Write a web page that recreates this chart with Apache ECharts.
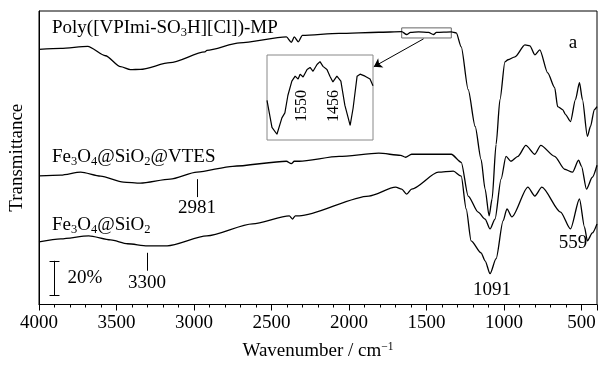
<!DOCTYPE html>
<html>
<head>
<meta charset="utf-8">
<script src="https://cdn.jsdelivr.net/npm/echarts@6/dist/echarts.min.js"></script>
<style>
  html, body { margin: 0; padding: 0; background: #fff; }
  #chart { width: 600px; height: 366px; }
</style>
</head>
<body>
<div id="chart"></div>
<script>
// wavenumbers (cm-1) and transmittance (%, curves offset)
const wnPoly = [4000, 3859, 3686, 3571, 3474, 3410, 3346, 3154, 2929, 2917, 2705, 2404, 2372, 2353, 2327, 2301, 2064, 1808, 1660, 1628, 1603, 1551, 1487, 1455, 1436, 1340, 1308, 1276, 1231, 1186, 1148, 1122, 1096, 1077, 1051, 1026, 994, 974, 929, 865, 833, 801, 769, 718, 673, 654, 622, 603, 571, 539, 513, 494, 462, 442, 417, 400]
const tPoly = [146.6, 147.1, 148.3, 142.9, 136.6, 134.9, 135.1, 138.9, 145.1, 146.0, 150.3, 153.7, 150.6, 153.7, 150.9, 154.6, 155.7, 156.4, 156.7, 155.1, 156.3, 156.6, 156.3, 155.1, 156.3, 156.6, 156.0, 148.0, 123.4, 102.3, 83.4, 66.3, 50.9, 60.6, 92.0, 117.7, 139.4, 140.6, 142.3, 149.1, 148.6, 143.4, 146.3, 133.1, 124.6, 113.7, 112.0, 109.1, 105.1, 117.7, 127.4, 117.7, 96.6, 102.3, 112.0, 113.7]

const wnVtes = [4000, 3859, 3731, 3603, 3455, 3346, 3154, 2981, 2750, 2404, 2372, 2353, 2321, 2064, 1808, 1667, 1635, 1596, 1423, 1340, 1276, 1231, 1167, 1122, 1090, 1058, 1019, 987, 955, 910, 859, 801, 763, 673, 609, 558, 519, 500, 468, 430, 400]
const tVtes = [73.9, 74.3, 76.0, 73.7, 70.3, 69.7, 72.0, 76.0, 79.4, 82.3, 80.9, 82.3, 82.3, 85.1, 86.9, 85.7, 84.6, 86.3, 86.3, 86.3, 81.7, 62.3, 53.1, 49.1, 43.4, 49.1, 72.0, 85.1, 82.3, 85.1, 91.4, 86.3, 91.4, 85.1, 77.7, 76.0, 82.9, 79.4, 66.3, 73.1, 80.0]

const wnSio2 = [4000, 3859, 3679, 3538, 3429, 3301, 3173, 2917, 2622, 2385, 2365, 2346, 2321, 1872, 1699, 1660, 1628, 1596, 1423, 1327, 1276, 1244, 1212, 1148, 1122, 1090, 1051, 1006, 981, 949, 846, 801, 756, 635, 571, 513, 481, 462, 430, 400]
const tSio2 = [36.0, 37.7, 39.4, 37.1, 34.9, 33.7, 33.7, 39.4, 46.3, 50.9, 49.1, 50.9, 50.9, 62.3, 67.4, 66.3, 63.4, 66.3, 76.0, 76.6, 73.7, 54.9, 36.6, 29.7, 25.1, 17.7, 26.3, 48.0, 54.9, 50.3, 67.4, 62.3, 67.4, 53.1, 43.4, 60.6, 44.6, 36.6, 41.1, 46.3]

// inset: magnified 1660-1340 cm-1 part of the top curve
const wnInset = [1660, 1645, 1630, 1615, 1606, 1597, 1585, 1575, 1566, 1560, 1551, 1539, 1530, 1521, 1509, 1500, 1491, 1479, 1470, 1461, 1449, 1437, 1425, 1409, 1400, 1388, 1379, 1364, 1349, 1340]
const tInset = [155.65, 153.77, 153.30, 154.44, 154.78, 155.99, 156.99, 157.33, 157.13, 157.47, 157.27, 157.80, 157.94, 157.67, 158.14, 158.34, 158.01, 157.80, 157.33, 156.93, 157.33, 156.99, 155.32, 153.91, 155.12, 157.33, 157.47, 157.33, 157.13, 156.66]

const xTickLabels = [4000, 3500, 3000, 2500, 2000, 1500, 1000, 500]
const peakMarks = [[3300, 29.7, 19.4], [2981, 72.0, 61.7]]

const serif = '"Liberation Serif", "Times New Roman", serif'
const pts = (wn, t) => wn.map((w, i) => [-w, t[i]])

const chart = echarts.init(document.getElementById('chart'))

const sub = { fontSize: 12.5, fontFamily: serif, color: '#000', padding: [9, 0, 0, 0] }
const nrm = { fontSize: 19, fontFamily: serif, color: '#000' }
const txt = (x, y, text, extra) => ({
  type: 'text', x: x, y: y, z: 100,
  style: Object.assign({ text: text, font: '19px ' + serif, fill: '#000', textAlign: 'center', textVerticalAlign: 'middle', rich: { n: nrm, s: sub } }, extra || {})
})
const vtxt = (x, y, text) => ({
  type: 'text', x: x, y: y, z: 100, rotation: Math.PI / 2,
  style: { text: text, font: '16px ' + serif, fill: '#000', textAlign: 'center', textVerticalAlign: 'middle' }
})

const option = {
  animation: false,
  grid: [
    { left: 38, top: 11, width: 561, height: 295, show: true, borderColor: '#000', borderWidth: 1 },
    { left: 267, top: 55, width: 106, height: 85, show: true, borderColor: '#888', borderWidth: 1, backgroundColor: '#fff', z: 5 }
  ],
  xAxis: [
    {
      gridIndex: 0, type: 'value', min: -4000, max: -400, interval: 500,
      axisLine: { show: true, onZero: false, lineStyle: { color: '#000' } },
      axisTick: { show: true, inside: false, length: 6, lineStyle: { color: '#000' } },
      minorTick: { show: true, splitNumber: 5, length: 3, lineStyle: { color: '#000' } },
      splitLine: { show: false },
      axisLabel: {
        margin: 9, fontFamily: serif, fontSize: 19, color: '#000',
        formatter: v => xTickLabels.indexOf(-v) >= 0 ? String(-v) : ''
      },
      name: '{a|Wavenumber / cm}{b|\u22121}', nameLocation: 'middle', nameGap: 36,
      nameTextStyle: {
        rich: {
          a: { fontFamily: serif, fontSize: 19, color: '#000' },
          b: { fontFamily: serif, fontSize: 11.5, color: '#000', padding: [0, 0, 10, 0] }
        }
      }
    },
    {
      gridIndex: 1, type: 'value', min: -1660, max: -1340,
      axisLine: { show: false }, axisTick: { show: false }, axisLabel: { show: false }, splitLine: { show: false }
    }
  ],
  yAxis: [
    {
      gridIndex: 0, type: 'value', min: 0, max: 168.6,
      axisLine: { show: true, lineStyle: { color: '#000' } },
      axisTick: { show: false }, axisLabel: { show: false }, splitLine: { show: false },
      name: 'Transmittance', nameLocation: 'middle', nameGap: 12,
      nameTextStyle: { fontFamily: serif, fontSize: 19, color: '#000' }
    },
    {
      gridIndex: 1, type: 'value', min: 152.9, max: 158.8,
      axisLine: { show: false }, axisTick: { show: false }, axisLabel: { show: false }, splitLine: { show: false }
    }
  ],
  series: [
    {
      name: 'Poly', type: 'line', data: pts(wnPoly, tPoly), showSymbol: false, smooth: 0.25, smoothMonotone: 'x',
      lineStyle: { color: '#000', width: 1.3 },
      markArea: {
        silent: true,
        itemStyle: { color: 'rgba(0,0,0,0)', borderColor: '#666', borderWidth: 1 },
        data: [[{ coord: [-1660, 158.9] }, { coord: [-1340, 153.1] }]]
      },
      markLine: {
        silent: true, symbol: ['none', 'arrow'], symbolSize: 8, label: { show: false },
        lineStyle: { color: '#000', width: 1, type: 'solid' },
        data: [[{ coord: [-1519, 152.6] }, { coord: [-1840, 136.6] }]]
      }
    },
    {
      name: 'VTES', type: 'line', data: pts(wnVtes, tVtes), showSymbol: false, smooth: 0.25, smoothMonotone: 'x',
      lineStyle: { color: '#000', width: 1.3 },
      markLine: {
        silent: true, symbol: 'none', label: { show: false },
        lineStyle: { color: '#000', width: 1, type: 'solid' },
        data: peakMarks.map(p => [{ coord: [-p[0], p[1]] }, { coord: [-p[0], p[2]] }])
          .concat([
            [{ coord: [-3900, 5.1] }, { coord: [-3900, 25.1] }],
            [{ coord: [-3932, 5.1] }, { coord: [-3868, 5.1] }],
            [{ coord: [-3932, 25.1] }, { coord: [-3868, 25.1] }]
          ])
      }
    },
    {
      name: 'SiO2', type: 'line', data: pts(wnSio2, tSio2), showSymbol: false, smooth: 0.25, smoothMonotone: 'x',
      lineStyle: { color: '#000', width: 1.3 }
    },
    {
      name: 'inset', type: 'line', xAxisIndex: 1, yAxisIndex: 1, z: 10, data: pts(wnInset, tInset), showSymbol: false,
      lineStyle: { color: '#000', width: 1.2 }
    }
  ],
  graphic: [
    txt(52, 28, '{n|Poly([VPImi-SO}{s|3}{n|H][Cl])-MP}', { textAlign: 'left' }),
    txt(52, 157, '{n|Fe}{s|3}{n|O}{s|4}{n|@SiO}{s|2}{n|@VTES}', { textAlign: 'left' }),
    txt(52, 225, '{n|Fe}{s|3}{n|O}{s|4}{n|@SiO}{s|2}', { textAlign: 'left' }),
    txt(85, 278, '20%'),
    txt(147, 283, '3300'),
    txt(197, 208, '2981'),
    txt(492, 290, '1091'),
    txt(573, 243, '559'),
    txt(573, 43, 'a'),
    vtxt(302, 106, '1550'),
    vtxt(334, 106, '1456')
  ]
}

chart.setOption(option)
</script>
</body>
</html>
